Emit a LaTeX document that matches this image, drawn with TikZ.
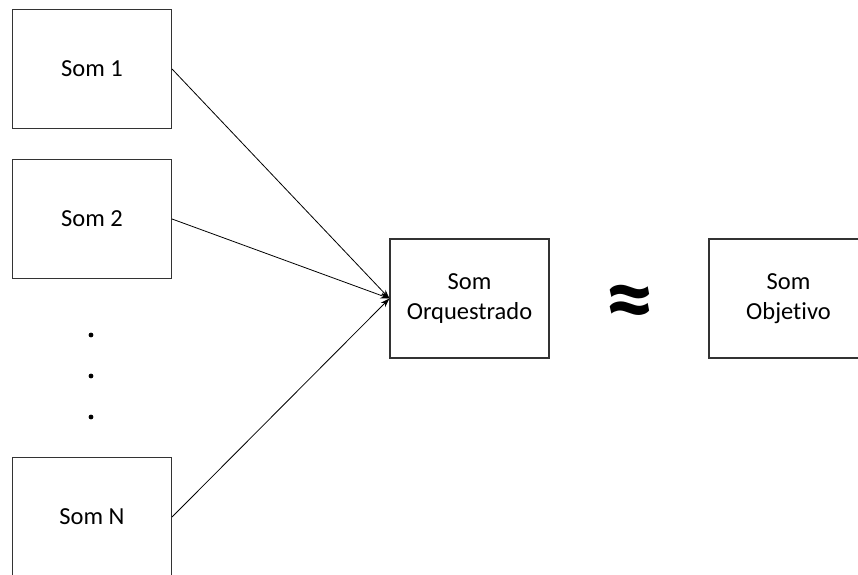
\documentclass[tikz,border=0pt]{standalone}
\usepackage{fontspec}
\setmainfont{Carlito}[Ligatures=NoCommon]
\usetikzlibrary{arrows.meta}
\begin{document}
\begin{tikzpicture}[x=1pt,y=-1pt,
  box/.style={draw=black!80, line width=1.1pt, minimum width=159pt, minimum height=119pt, inner sep=0pt, align=center, font=\fontsize{24.5}{30}\selectfont},
  conn/.style={line width=0.8pt, -{Stealth[length=9pt,width=6pt]}},
  dot/.style={circle, fill=black, inner sep=0pt, minimum size=4.8pt}]
\useasboundingbox (0,0) rectangle (858,574);
\node[box] (s1) at (92,69) {Som 1};
\node[box] (s2) at (92,219) {Som 2};
\node[box] (sN) at (92,517) {Som N};
\node[box] (orq) at (469.5,298.5) {Som\\Orquestrado};
\node[box] (obj) at (788.5,298.5) {Som\\Objetivo};
\node[dot] (d1) at (91,335) {};
\node[dot] (d2) at (91,376) {};
\node[dot] (d3) at (91,417) {};
\node[font=\fontsize{98}{100}\bfseries\selectfont, inner sep=0pt] (approx) at (630,308) {≈};
\draw[conn] (s1.east) -- (orq.west);
\draw[conn] (s2.east) -- (orq.west);
\draw[conn] (sN.east) -- (orq.west);
\end{tikzpicture}
\end{document}
